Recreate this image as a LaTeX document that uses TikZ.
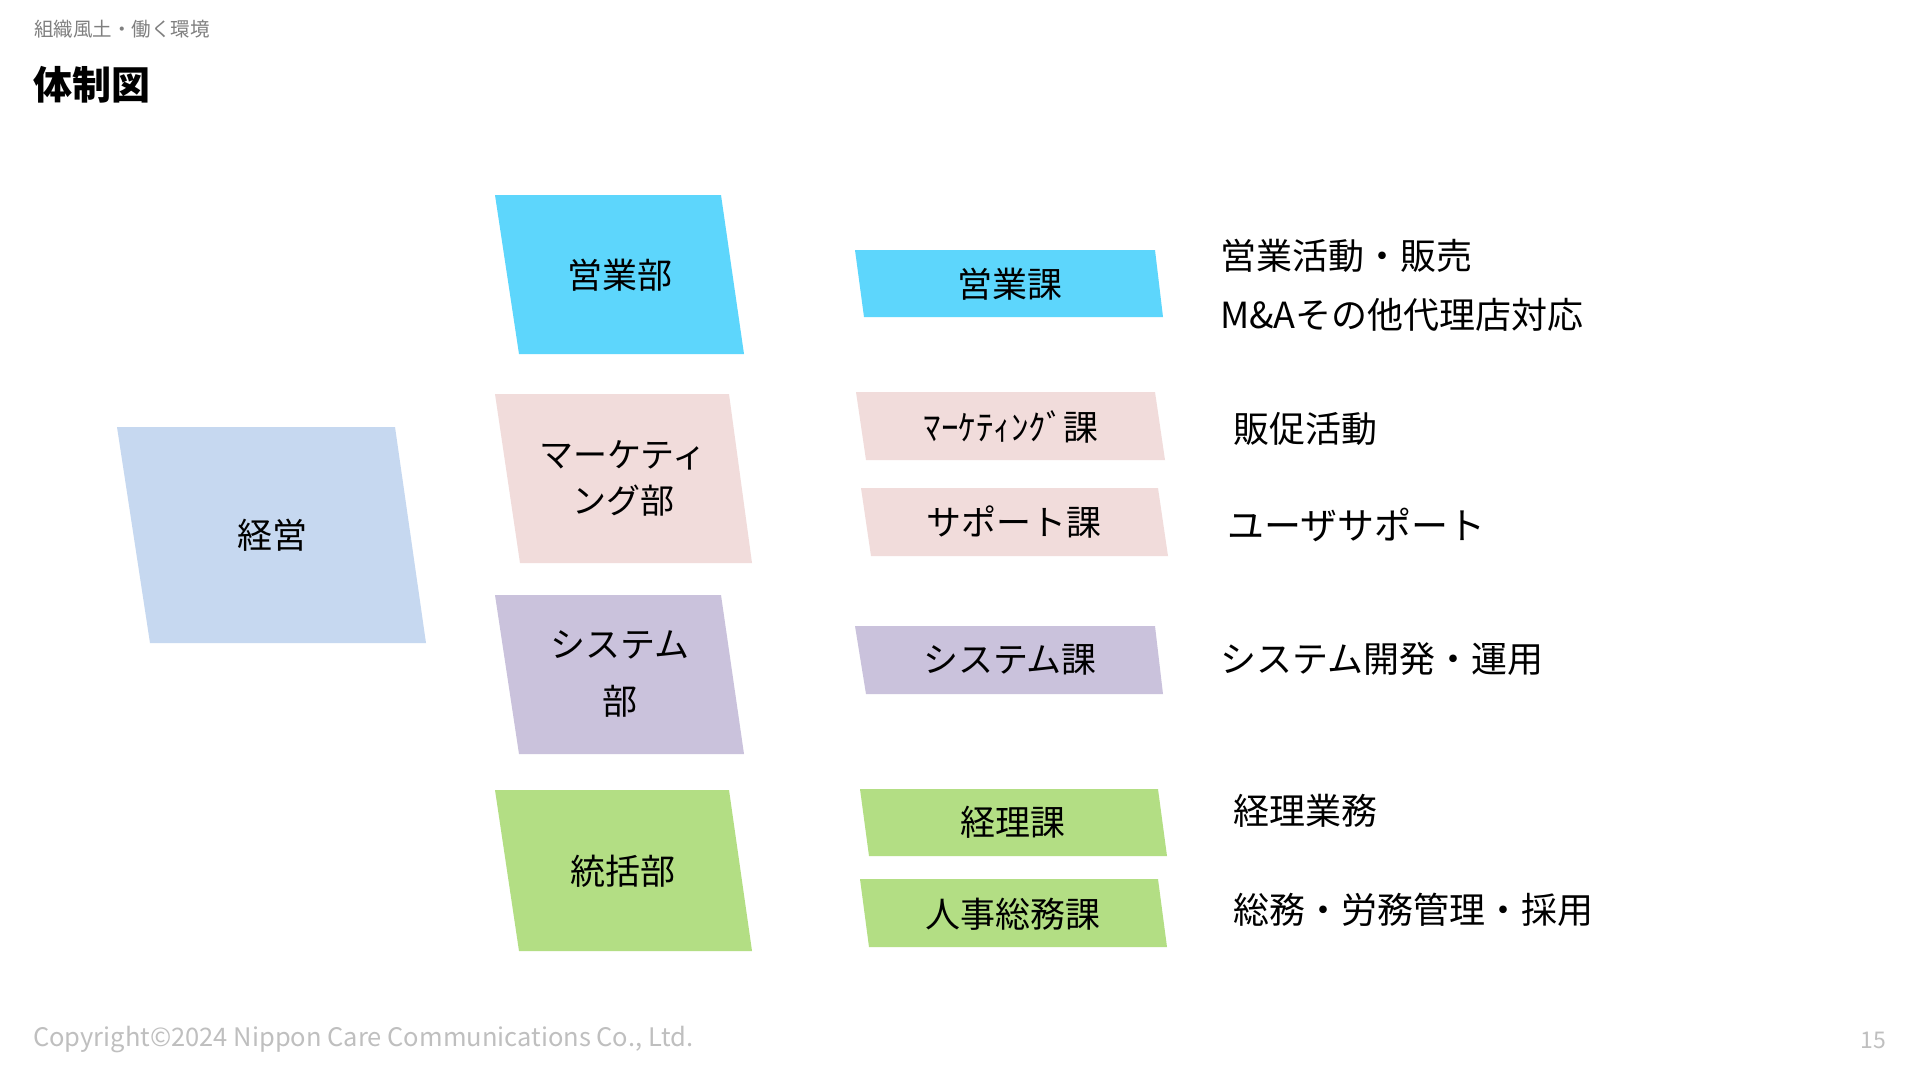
\documentclass[tikz,border=0pt]{standalone}
\usepackage{fontspec}
\setmainfont{Noto Sans CJK JP}
\definecolor{cyanbox}{HTML}{5DD6FC}
\definecolor{bluebox}{HTML}{C6D8F0}
\definecolor{pinkbox}{HTML}{F1DCDB}
\definecolor{lavbox}{HTML}{CAC2DC}
\definecolor{greenbox}{HTML}{B3DE84}
\definecolor{hdrgray}{HTML}{7F7F7F}
\definecolor{ftgray}{HTML}{BFBFBF}
\tikzset{
  boxtext/.style={inner sep=0pt, font=\fontsize{35}{40}\selectfont, text=black, align=center},
  desctext/.style={inner sep=0pt, anchor=west, font=\fontsize{36}{40}\selectfont, text=black},
}
\begin{document}
\begin{tikzpicture}[x=1pt,y=-1pt]
\useasboundingbox (0,0) rectangle (1920,1080);
\fill[white] (0,0) rectangle (1920,1080);

% header
\node[anchor=west, inner sep=0pt, text=hdrgray, font=\fontsize{19.5}{22}\selectfont] (hdr) at (34,29) {組織風土・働く環境};
\node[anchor=west, inner sep=0pt, text=black, font=\fontsize{39}{44}\selectfont\bfseries] (title) at (33,85) {体制図};

% 経営
\fill[bluebox] (117,427) -- (395,427) -- (426,643) -- (150,643) -- cycle;
\node[boxtext] (keiei) at (272,535) {経営};

% departments
\fill[cyanbox] (495,195) -- (721,195) -- (744,354) -- (519,354) -- cycle;
\node[boxtext] (eigyobu) at (620,275) {営業部};

\fill[pinkbox] (495,394) -- (729,394) -- (752,563) -- (520,563) -- cycle;
\node[boxtext, font=\fontsize{34}{46}\selectfont] (mktbu) at (623,478) {マーケティ\\ング部};

\fill[lavbox] (495,595) -- (721,595) -- (744,754) -- (519,754) -- cycle;
\node[boxtext, font=\fontsize{35}{57}\selectfont] (sysbu) at (620,674) {システム\\部};

\fill[greenbox] (495,790) -- (729,790) -- (752,951) -- (519,951) -- cycle;
\node[boxtext] (tokatsubu) at (623,871) {統括部};

% sections
\fill[cyanbox] (855,250) -- (1155,250) -- (1163,317) -- (864,317) -- cycle;
\node[boxtext] (eigyoka) at (1010,284) {営業課};

\fill[pinkbox] (856,392) -- (1155,392) -- (1165,460) -- (866,460) -- cycle;
\node[boxtext] (mktka) at (1011,427) {ﾏｰｹﾃｨﾝｸﾞ課};

\fill[pinkbox] (861,488) -- (1158,488) -- (1168,556) -- (871,556) -- cycle;
\node[boxtext] (supka) at (1014,522) {サポート課};

\fill[lavbox] (855,626) -- (1155,626) -- (1163,694) -- (866,694) -- cycle;
\node[boxtext] (sysk) at (1010,660) {システム課};

\fill[greenbox] (860,789) -- (1158,789) -- (1167,856) -- (869,856) -- cycle;
\node[boxtext] (keirika) at (1013,822) {経理課};

\fill[greenbox] (860,879) -- (1158,879) -- (1167,947) -- (869,947) -- cycle;
\node[boxtext] (jinjika) at (1013,914) {人事総務課};

% descriptions
\node[desctext] (d1) at (1220,256) {営業活動・販売};
\node[desctext] (d2) at (1220,315) {M\&Aその他代理店対応};
\node[desctext] (d3) at (1233,429) {販促活動};
\node[desctext, font=\fontsize{37}{40}\selectfont] (d4) at (1227,525) {ユーザサポート};
\node[desctext] (d5) at (1220,659) {システム開発・運用};
\node[desctext] (d6) at (1233,811) {経理業務};
\node[desctext] (d7) at (1233,910) {総務・労務管理・採用};

% footer
\node[anchor=west, inner sep=0pt, text=ftgray, font=\fontsize{25.5}{28}\selectfont] (copy) at (33,1040) {Copyright©2024 Nippon Care Communications Co., Ltd.};
\node[anchor=east, inner sep=0pt, text=ftgray, font=\fontsize{23}{26}\selectfont] (pnum) at (1886,1040) {15};
\end{tikzpicture}
\end{document}
